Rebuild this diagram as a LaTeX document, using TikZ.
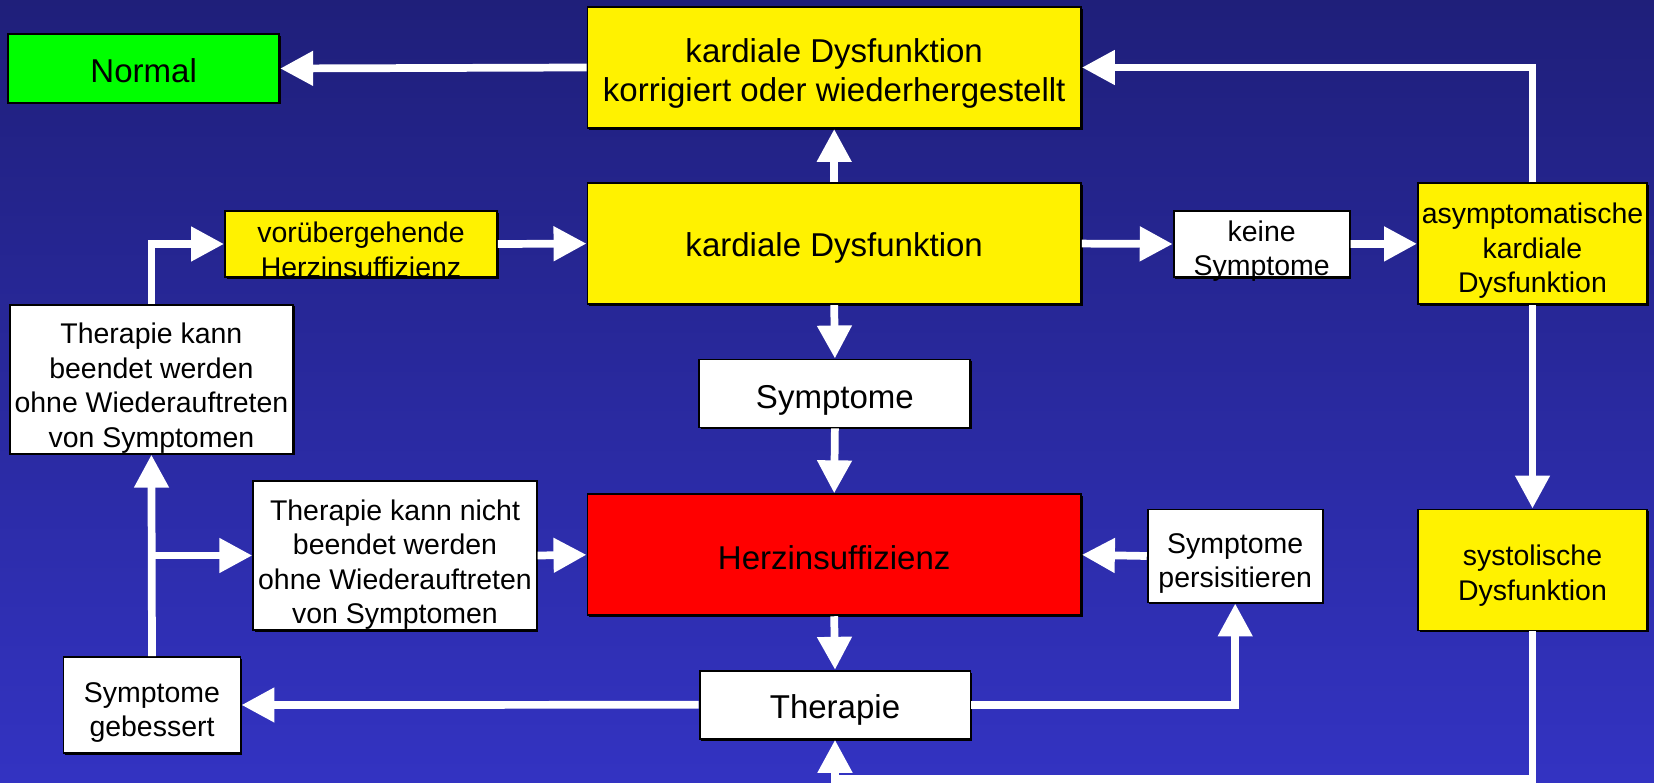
\documentclass[tikz,border=0pt]{standalone}
\usepackage{fontspec}
\setmainfont{Liberation Sans}
\usetikzlibrary{arrows.meta,shadows}
\definecolor{bgtop}{RGB}{31,31,122}
\definecolor{bgbot}{RGB}{51,51,194}
\newcommand\lowered[2][0.15cm]{\raisebox{-#1}[\height][\depth]{\begin{tabular}{@{}c@{}}#2\end{tabular}}}

\begin{document}
\begin{tikzpicture}[x=0.02cm,y=-0.02cm,
    box/.style={draw=black,line width=1.1pt,inner sep=0pt,align=center,
      drop shadow={shadow xshift=0.035cm,shadow yshift=-0.035cm,opacity=1,fill=black}},
    big/.style={font=\fontsize{18.8}{22.7}\selectfont},
    small/.style={font=\fontsize{16.2}{19.6}\selectfont},
    wide/.style={minimum width=9.87cm,minimum height=2.42cm},
    side/.style={minimum width=4.58cm,minimum height=2.42cm},
    flat/.style={minimum width=5.42cm,minimum height=1.36cm},
    arr/.style={draw=white,line width=4.4pt,-{Triangle[length=0.66cm,width=0.66cm]}}]
  \useasboundingbox (0,0) rectangle (1654,783);
  \shade[top color=bgtop,bottom color=bgbot] (0,0) rectangle (1654,783);

  % top row
  \node[box,big,fill=green,flat,minimum height=1.37cm] (norm) at (143.7,68.5) {\lowered[0.13cm]{Normal}};
  \node[box,big,fill=yellow,wide] (kdk) at (834.2,67.5) {\lowered[0.13cm]{kardiale Dysfunktion\\korrigiert oder wiederhergestellt}};
  \node[box,big,fill=yellow,wide] (kd) at (834.2,243.6) {\lowered[0.09cm]{kardiale Dysfunktion}};
  \node[box,fill=yellow,minimum width=5.44cm,minimum height=1.32cm] (vor) at (361,244) {};
  \node[small,align=center,inner sep=0pt] (vortxt) at (361,250) {vorübergehende\\Herzinsuffizienz};
  \node[box,fill=white,minimum width=3.52cm,minimum height=1.32cm] (keine) at (1261.7,244) {};
  \node[small,align=center,inner sep=0pt] (keinetxt) at (1261.7,251) {keine\\Symptome};
  \node[box,small,fill=yellow,side] (asy) at (1532.5,243.8) {\lowered{asymptomatische\\kardiale\\Dysfunktion}};

  % middle and bottom
  \node[box,small,fill=white,minimum width=5.67cm,minimum height=2.98cm] (beendet) at (151.4,379.2)
    {\lowered[0.19cm]{Therapie kann\\beendet werden\\ohne Wiederauftreten\\von Symptomen}};
  \node[box,big,fill=white,flat] (sym) at (834.9,393.5) {\lowered[0.14cm]{Symptome}};
  \node[box,small,fill=white,minimum width=5.67cm,minimum height=2.98cm] (nicht) at (395,555.5)
    {\lowered[0.19cm]{Therapie kann nicht\\beendet werden\\ohne Wiederauftreten\\von Symptomen}};
  \node[box,big,fill=red,wide] (herz) at (834.2,554.8) {\lowered[0.13cm]{Herzinsuffizienz}};
  \node[box,small,fill=white,minimum width=3.5cm,minimum height=1.86cm] (pers) at (1235.2,556) {\lowered{Symptome\\persisitieren}};
  \node[box,small,fill=yellow,side] (sys) at (1532.5,570) {\lowered[0.12cm]{systolische\\Dysfunktion}};
  \node[box,small,fill=white,minimum width=3.54cm,minimum height=1.92cm] (geb) at (152,705) {\lowered{Symptome\\gebessert}};
  \node[box,big,fill=white,flat] (ther) at (835,704.8) {\lowered[0.12cm]{Therapie}};
  \coordinate (bend) at (1532.5,779);

  % connectors
  \draw[arr] (kdk.west) -- (norm.east);
  \draw[arr] (kd.north) -- (kdk.south);
  \draw[arr] (asy.north) |- (kdk.east);
  \draw[arr] (vor.east) -- (kd.west);
  \draw[arr] (kd.east) -- (keine.west);
  \draw[arr] (keine.east) -- (asy.west);
  \draw[arr] (asy.south) -- (sys.north);
  \draw[arr] (sys.south) -- (bend) -| (ther.south);
  \draw[arr] (kd.south) -- (sym.north);
  \draw[arr] (sym.south) -- (herz.north);
  \draw[arr] (herz.south) -- (ther.north);
  \draw[arr] (ther.west) -- (geb.east);
  \draw[arr] (ther.east) -| (pers.south);
  \draw[arr] (pers.west) -- (herz.east);
  \draw[arr] (nicht.east) -- (herz.west);
  \draw[arr] (geb.north) -- (beendet.south);
  \draw[arr] (geb.north |- nicht.west) -- (nicht.west);
  \draw[arr] (beendet.north) |- (vor.west);
\end{tikzpicture}
\end{document}
